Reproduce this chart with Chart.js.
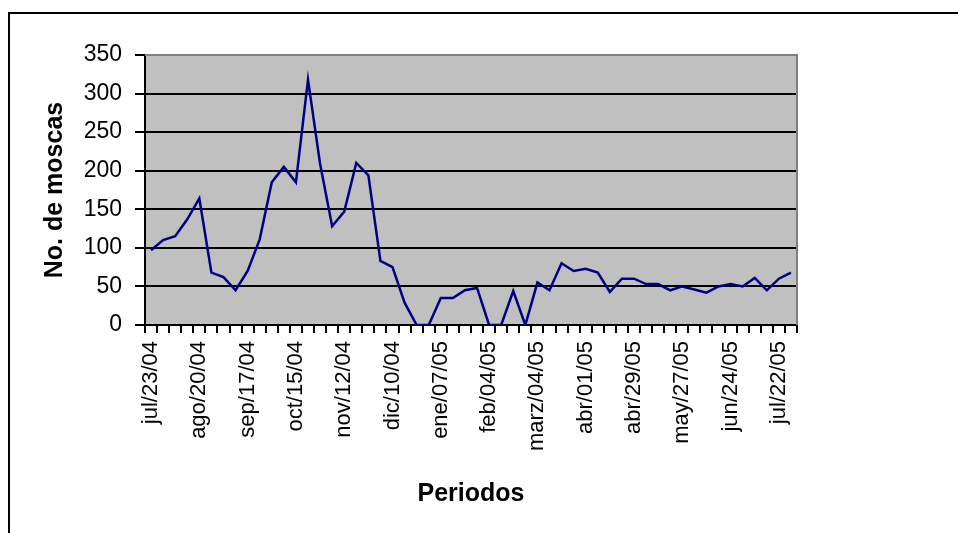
<!DOCTYPE html>
<html>
<head>
<meta charset="utf-8">
<script src="https://cdn.jsdelivr.net/npm/chart.js@4"></script>
<style>
    body { margin: 0; background: #fff; overflow: hidden; }
    #wrap { position: relative; width: 958px; height: 533px; }
    #frame { position: absolute; left: 8px; top: 12px; width: 1000px; height: 600px;
             border-left: 2px solid #000; border-top: 2px solid #000; pointer-events: none; }
    canvas { position: absolute; left: 0; top: 0; }
</style>
</head>
<body>
<div id="wrap">
    <canvas id="moscasChart" width="958" height="533"></canvas>
    <div id="frame"></div>
</div>
<script>
// tick labels, one every 4 weeks
const tickLabels = ['jul/23/04', 'ago/20/04', 'sep/17/04', 'oct/15/04', 'nov/12/04', 'dic/10/04',
    'ene/07/05', 'feb/04/05', 'marz/04/05', 'abr/01/05', 'abr/29/05', 'may/27/05', 'jun/24/05', 'jul/22/05'];

// weekly counts of flies
const moscas = [97, 110, 115, 137, 164, 68, 62, 45, 70, 111,
    185, 205, 185, 318, 209, 128, 147, 210, 194, 83,
    75, 29, 0, 0, 35, 35, 45, 48, 0, 0,
    44, 0, 55, 45, 80, 70, 73, 68, 43, 60,
    60, 53, 53, 45, 50, 46, 42, 50, 53, 50,
    61, 45, 60, 68];

const yTicks = [0, 50, 100, 150, 200, 250, 300, 350];

const semanas = moscas.map((v, i) => (i % 4 === 0 ? tickLabels[i / 4] : ''));

const fontFam = '"Liberation Sans", Arial, sans-serif';

// grey plot background with grey top/right border
const plotArea = {
    id: 'plotArea',
    beforeDraw(chart) {
        const {ctx, chartArea: a} = chart;
        ctx.save();
        ctx.fillStyle = '#c0c0c0';
        ctx.fillRect(a.left, a.top, a.right - a.left, a.bottom - a.top);
        ctx.restore();
    },
    afterDatasetsDraw(chart) {
        const {ctx, chartArea: a} = chart;
        ctx.save();
        ctx.strokeStyle = '#808080';
        ctx.lineWidth = 2;
        ctx.beginPath();
        ctx.moveTo(a.left, a.top);
        ctx.lineTo(a.right, a.top);
        ctx.lineTo(a.right, a.bottom);
        ctx.stroke();
        ctx.restore();
    }
};

document.addEventListener('DOMContentLoaded', () => {
    const ctx = document.getElementById('moscasChart').getContext('2d');
    new Chart(ctx, {
        type: 'line',
        data: {
            labels: semanas,
            datasets: [{
                label: 'No. de moscas',
                data: moscas,
                borderColor: '#000080',
                borderWidth: 2.5,
                pointRadius: 0,
                tension: 0,
                fill: false
            }]
        },
        options: {
            responsive: false,
            animation: false,
            layout: { padding: { top: 55, right: 161, left: 0, bottom: 0 } },
            plugins: { legend: { display: false }, tooltip: { enabled: false } },
            scales: {
                x: {
                    offset: true,
                    grid: { drawOnChartArea: false, drawTicks: true, tickLength: 8, color: '#000', lineWidth: 2, offset: true },
                    border: { color: '#000', width: 2 },
                    ticks: {
                        autoSkip: false, maxRotation: 90, minRotation: 90, padding: 8,
                        color: '#000', font: { family: fontFam, size: 22 },
                        callback: (v, i) => semanas[i]
                    },
                    title: {
                        display: true, text: 'Periodos', color: '#000',
                        font: { family: fontFam, size: 25, weight: 'bold' },
                        padding: { top: 0, bottom: 24 }
                    },
                    afterFit: (s) => { s.height = 208; }
                },
                y: {
                    min: 0, max: 350,
                    afterBuildTicks: (s) => { s.ticks = yTicks.map(v => ({ value: v })); },
                    grid: {
                        color: (c) => (c.tick && c.tick.value === 350 ? '#808080' : '#000'),
                        tickColor: '#000', tickLength: 10, lineWidth: 2
                    },
                    border: { color: '#000', width: 2 },
                    ticks: { padding: 13, color: '#000', font: { family: fontFam, size: 23 } },
                    title: {
                        display: true, text: 'No. de moscas', color: '#000',
                        font: { family: fontFam, size: 25, weight: 'bold' },
                        padding: { top: 40, bottom: 0 }
                    },
                    afterFit: (s) => { s.width = 145; }
                }
            }
        },
        plugins: [plotArea]
    });
});
</script>
</body>
</html>
